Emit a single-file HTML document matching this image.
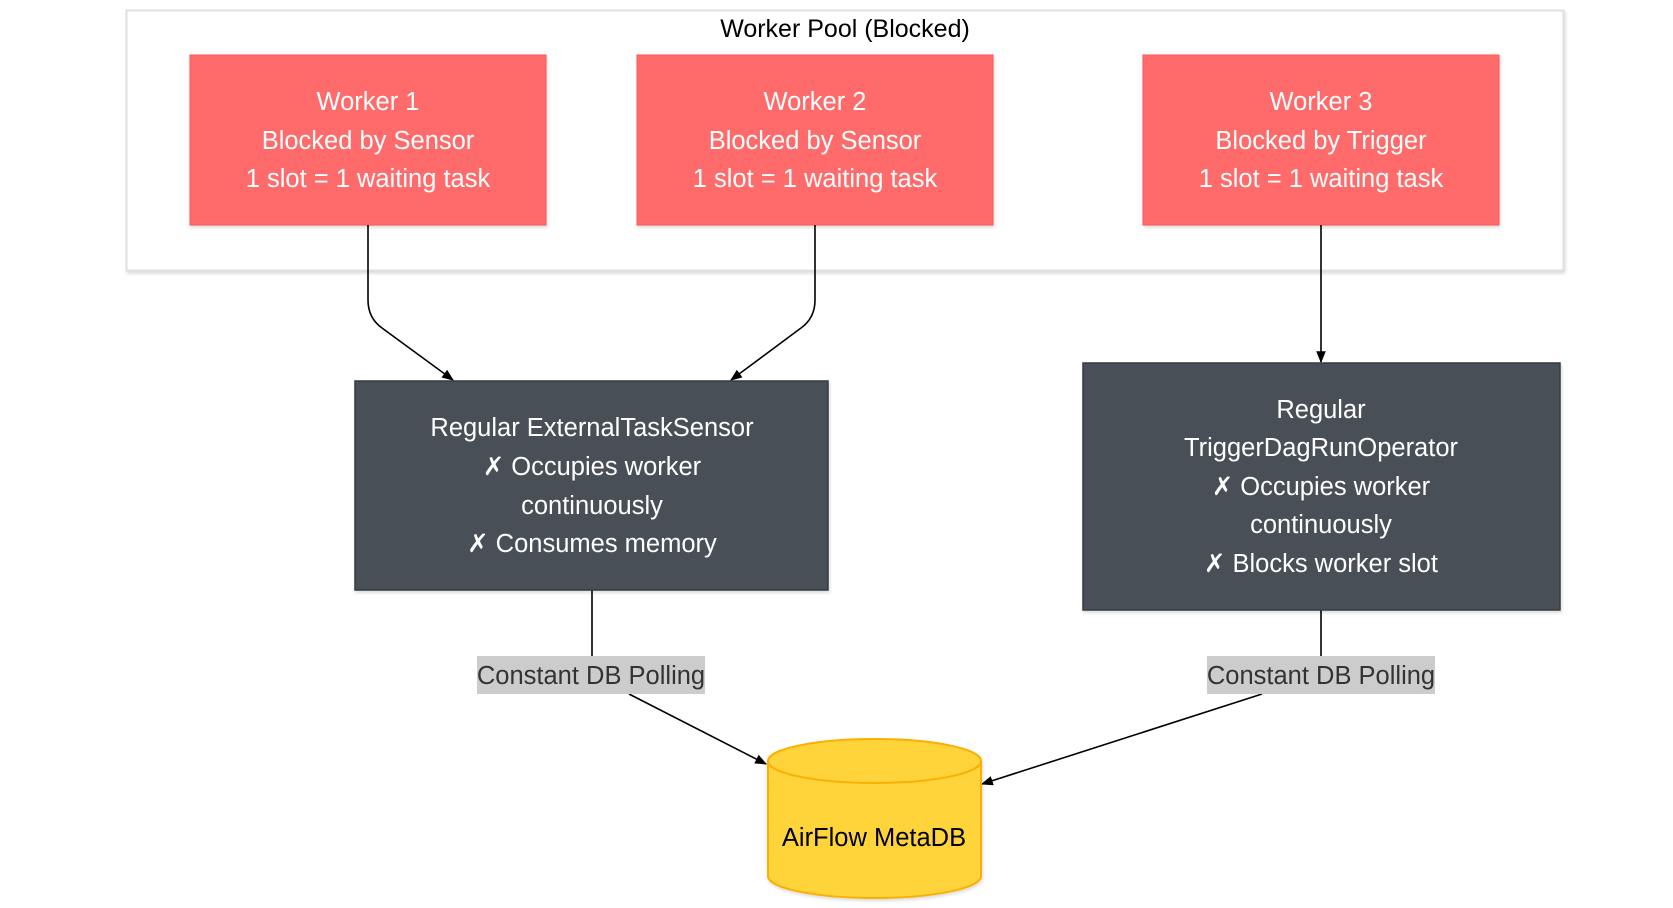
<!DOCTYPE html>
<html><head><meta charset="utf-8"><style>
html,body{margin:0;padding:0;background:#fff;width:1673px;height:908px;overflow:hidden}
svg text{font-family:"Liberation Sans",Arial,sans-serif}
</style></head><body>
<svg width="1673" height="908" viewBox="0 0 1673 908" xmlns="http://www.w3.org/2000/svg">
<defs>
<marker id="a" viewBox="0 0 10 10" refX="9" refY="5" markerWidth="12" markerHeight="12" orient="auto-start-reverse" markerUnits="userSpaceOnUse"><path d="M0,1L10,5L0,9z" fill="#000"/></marker>
<filter id="s" x="-5%" y="-5%" width="110%" height="115%"><feDropShadow dx="1" dy="2" stdDeviation="1.5" flood-color="#000" flood-opacity="0.15"/></filter>
</defs>
<rect x="126.5" y="10.5" width="1437" height="260" fill="#fff" stroke="#dde0e4" stroke-width="2" filter="url(#s)"/>
<text x="845" y="37" font-size="25" text-anchor="middle" fill="#000">Worker Pool (Blocked)</text>

<g fill="#ff6b6b" stroke="#f55" stroke-width="1" filter="url(#s)">
<rect x="190" y="55" width="356" height="170"/>
<rect x="637" y="55" width="356" height="170"/>
<rect x="1143" y="55" width="356" height="170"/>
</g>
<g fill="#fff" font-size="25.5" text-anchor="middle">
<text x="368" y="110">Worker 1</text><text x="368" y="149">Blocked by Sensor</text><text x="368" y="187">1 slot = 1 waiting task</text>
<text x="815" y="110">Worker 2</text><text x="815" y="149">Blocked by Sensor</text><text x="815" y="187">1 slot = 1 waiting task</text>
<text x="1321" y="110">Worker 3</text><text x="1321" y="149">Blocked by Trigger</text><text x="1321" y="187">1 slot = 1 waiting task</text>
</g>

<g fill="none" stroke="#000" stroke-width="1.6">
<path d="M368,225 V300 Q368,318 382,328 L453,380" marker-end="url(#a)"/>
<path d="M815,225 V300 Q815,318 801,328 L731,380" marker-end="url(#a)"/>
<path d="M1321,225 V362" marker-end="url(#a)"/>
<path d="M592,590 V656"/>
<path d="M1321,610 V656"/>
<path d="M629,694 L766,764" marker-end="url(#a)"/>
<path d="M1262,694 L982,784" marker-end="url(#a)"/>
</g>

<g fill="#495057" stroke="#343a40" stroke-width="1.5" filter="url(#s)">
<rect x="355" y="381" width="473" height="209"/>
<rect x="1083" y="363" width="477" height="247"/>
</g>
<g fill="#fff" font-size="25.5" text-anchor="middle">
<text x="592" y="436">Regular ExternalTaskSensor</text>
<text x="592" y="475">✗ Occupies worker</text>
<text x="592" y="514">continuously</text>
<text x="592" y="552">✗ Consumes memory</text>
<text x="1321" y="418">Regular</text>
<text x="1321" y="456">TriggerDagRunOperator</text>
<text x="1321" y="495">✗ Occupies worker</text>
<text x="1321" y="533">continuously</text>
<text x="1321" y="572">✗ Blocks worker slot</text>
</g>

<rect x="477" y="656" width="228" height="38" fill="#ccc"/>
<rect x="1207" y="656" width="228" height="38" fill="#ccc"/>
<g fill="#333" font-size="25.5" text-anchor="middle">
<text x="591" y="684">Constant DB Polling</text>
<text x="1321" y="684">Constant DB Polling</text>
</g>

<g filter="url(#s)">
<path d="M768,761 A106.5,22 0 0 1 981,761 V876 A106.5,22 0 0 1 768,876 Z" fill="#ffd43b" stroke="#fab005" stroke-width="2"/>
<path d="M768,761 A106.5,22 0 0 0 981,761" fill="none" stroke="#fab005" stroke-width="2"/>
</g>
<text x="874" y="846" font-size="25.5" text-anchor="middle" fill="#000">AirFlow MetaDB</text>
</svg>
</body></html>
